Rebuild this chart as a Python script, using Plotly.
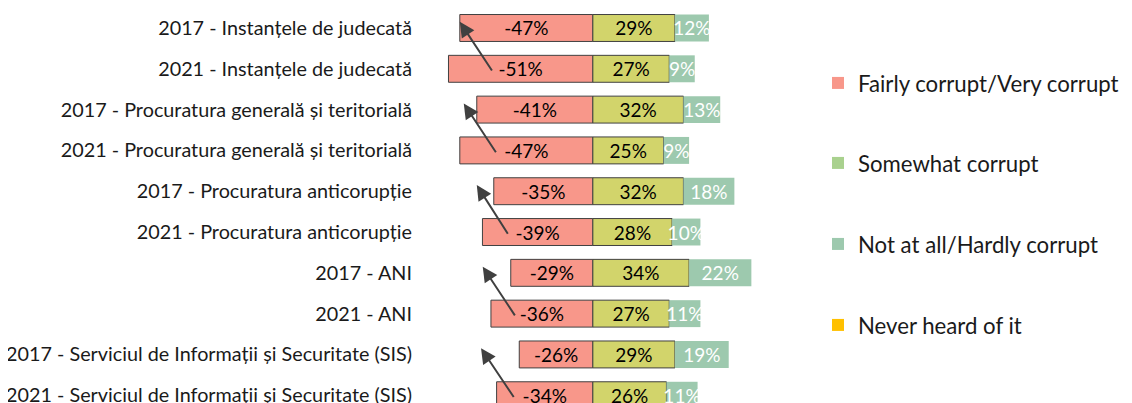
import plotly.graph_objects as go

categories = [
    "2017 - Instanțele de judecată",
    "2021 - Instanțele de judecată",
    "2017 - Procuratura generală și teritorială",
    "2021 - Procuratura generală și teritorială",
    "2017 - Procuratura anticorupție",
    "2021 - Procuratura anticorupție",
    "2017 - ANI",
    "2021 - ANI",
    "2017 - Serviciul de Informații și Securitate (SIS)",
    "2021 - Serviciul de Informații și Securitate (SIS)",
]
fairly_corrupt = [-47, -51, -41, -47, -35, -39, -29, -36, -26, -34]
somewhat_corrupt = [29, 27, 32, 25, 32, 28, 34, 27, 29, 26]
not_at_all = [12, 9, 13, 9, 18, 10, 22, 11, 19, 11]

legend_names = ["Fairly corrupt/Very corrupt", "Somewhat corrupt",
                "Not at all/Hardly corrupt", "Never heard of it"]
legend_colors = ["#F8978A", "#A9D18E", "#9DC9AE", "#FFC000"]

# arrow decorations (2021 -> 2017 comparison), in axis units
arrow_start_x = [-35.3, -33.9, -29.7, -27.2, -27.6]
arrow_tip_x = [-47.0, -45.6, -41.0, -38.9, -39.5]

FONT = "Lato"
rows = list(range(len(categories)))


def pct(vals):
    return [f"{v}%" for v in vals]


fig = go.Figure()
bar_common = dict(orientation="h", y=rows, textposition="inside", textangle=0,
                  insidetextanchor="middle", constraintext="none",
                  texttemplate="%{text}", showlegend=False, hoverinfo="skip")
fig.add_trace(go.Bar(x=fairly_corrupt, text=pct(fairly_corrupt),
                     marker=dict(color="#F8978A", line=dict(color="#404040", width=1)),
                     textfont=dict(color="black", size=19, family=FONT), **bar_common))
fig.add_trace(go.Bar(x=somewhat_corrupt, text=pct(somewhat_corrupt),
                     marker=dict(color="#D2D46B", line=dict(color="#404040", width=1)),
                     textfont=dict(color="black", size=19, family=FONT), **bar_common))
fig.add_trace(go.Bar(x=not_at_all, text=pct(not_at_all),
                     marker=dict(color="#9DC9AE", line=dict(width=0)),
                     textfont=dict(color="white", size=19, family=FONT), **bar_common))

legend_ids = ["legend", "legend2", "legend3", "legend4"]
for name, col, lid in zip(legend_names, legend_colors, legend_ids):
    fig.add_trace(go.Bar(x=[None], y=[None], orientation="h", name=name,
                         marker=dict(color=col, line=dict(width=0)),
                         showlegend=True, legend=lid))

for i, (sx, tx) in enumerate(zip(arrow_start_x, arrow_tip_x)):
    r17 = 2 * i
    r21 = 2 * i + 1
    fig.add_annotation(x=tx, y=r17 - 0.15, ax=sx, ay=r21 + 0.08,
                       xref="x", yref="y", axref="x", ayref="y",
                       text="", showarrow=True, arrowhead=2, arrowsize=1.5,
                       arrowwidth=2, arrowcolor="#404040")

W, H = 1132, 395
legend_y = [75, 155, 236, 317]
layout_legends = {}
for lid, py in zip(legend_ids, legend_y):
    layout_legends[lid] = dict(xref="container", yref="container",
                               x=810 / W, y=1 - py / H, yanchor="middle", xanchor="left",
                               font=dict(size=22.2, family=FONT, color="#1a1a1a"),
                               bgcolor="rgba(0,0,0,0)")

fig.update_layout(
    width=W, height=H,
    margin=dict(l=415, r=W - 415 - 368, t=0, b=0, autoexpand=False),
    barmode="relative", bargap=0.34,
    plot_bgcolor="white", paper_bgcolor="white",
    font=dict(family=FONT, color="#1a1a1a"),
    xaxis=dict(range=[-60, 70], showgrid=False, zeroline=False, automargin=False,
               showticklabels=False, showline=False, fixedrange=True),
    yaxis=dict(range=[9.19, -0.49], tickvals=rows, ticktext=categories,
               showgrid=False, zeroline=False, showline=False, ticks="",
               automargin=False,
               ticklabelstandoff=10, ticklabeloverflow="allow",
               tickfont=dict(size=19.8, family=FONT, color="#1a1a1a")),
    **layout_legends,
)

fig.write_html("out.html")
